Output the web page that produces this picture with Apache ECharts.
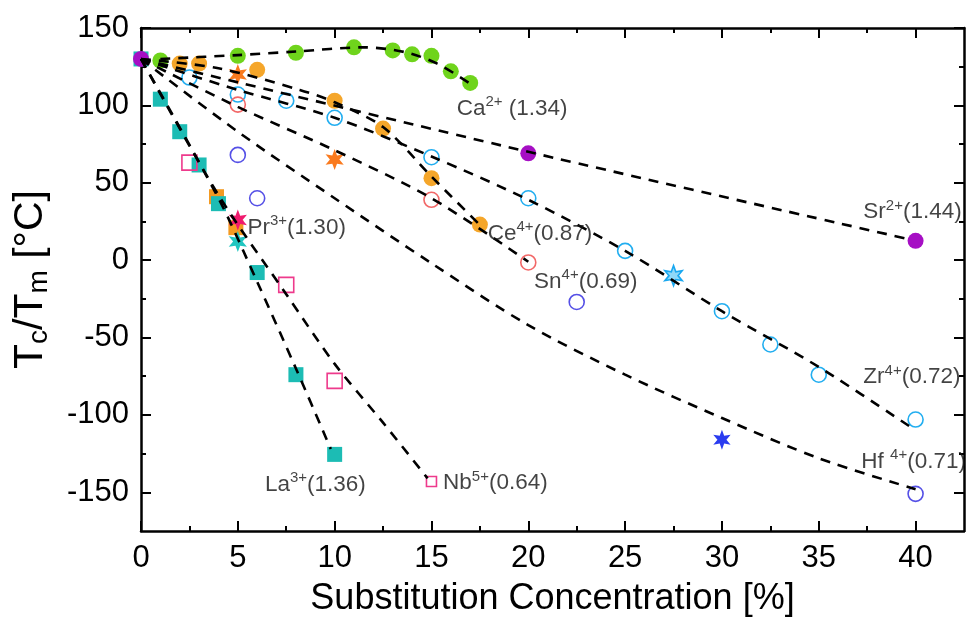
<!DOCTYPE html>
<html>
<head>
<meta charset="utf-8">
<title>Tc vs substitution</title>
<script src="https://cdn.jsdelivr.net/npm/echarts@6/dist/echarts.min.js"></script>
<style>
  html, body { margin: 0; padding: 0; background: #fff; }
  #chart { width: 966px; height: 631px; }
</style>
</head>
<body>
<div id="chart"></div>
<script>
// measured points: [concentration %, Tc °C]
const srPoints = [[0, 130], [20, 69], [40, 12.5]];
const caPoints = [[1, 129], [5, 132], [8, 134], [11, 137.5], [13, 135.5], [14, 133], [15, 132], [16, 122], [17, 114.5]];
const cePoints = [[2, 127], [3, 127], [6, 123], [10, 103], [12.5, 85], [15, 53], [17.5, 23]];
const ceStars = [[5, 120], [10, 65]];
const orangeHidden = [[3.9, 41], [4.9, 21]];
const zrPoints = [[2.5, 118], [5, 107], [7.5, 103], [10, 92], [15, 66.5], [20, 40], [25, 6], [30, -33], [32.5, -54.5], [35, -74], [40, -103]];
const zrStars = [[27.5, -10]];
const snPoints = [[5, 100.5], [15, 39], [20, -1.5]];
const hfPoints = [[5, 68], [6, 40], [22.5, -27], [40, -151]];
const hfStars = [[30, -116]];
const laPoints = [[0, 130], [1, 104], [2, 83], [3, 61.5], [4, 36.5], [6, -8], [8, -74], [10, -125.5]];
const laStars = [[5, 12]];
const prStars = [[5, 26]];
const nbPoints = [[2.5, 63], [7.5, -16], [10, -78], [15, -143]];

// dashed guide curves
const caFit = [[1, 130], [5, 132.5], [8, 134.8], [11.5, 137.5], [13.6, 134.5], [15.3, 127], [17, 114]];
const srFit = [[0, 130], [20, 70], [39.5, 14]];
const ceFit = [[0, 130], [4, 124], [8.2, 110], [10, 102], [12.5, 86], [15, 54], [17.4, 24]];
const zrFit = [[0, 130], [5, 110], [10, 92], [15, 67], [20, 39], [25, 6], [30, -33], [35, -69], [40, -110]];
const snFit = [[0, 130], [5, 99], [10, 71], [15, 40], [20, -1]];
const hfFit = [[0, 130], [5, 83], [10, 40], [15, -2], [20, -42], [25, -74], [30, -102], [35, -128], [40, -148]];
const laFit = [[0, 130], [4, 40], [6, -14], [8, -70], [9.8, -122]];
const nbFit = [[0, 130], [4, 42], [7.5, -22], [10, -67], [12.5, -105], [14.8, -141]];

const ionLabels = ['Ca{sup|2+} (1.34)', 'Sr{sup|2+}(1.44)', 'Ce{sup|4+}(0.87)', 'Sn{sup|4+}(0.69)', 'Pr{sup|3+}(1.30)',
  'Zr{sup|4+}(0.72)', 'Hf {sup|4+}(0.71)', 'La{sup|3+}(1.36)', 'Nb{sup|5+}(0.64)'];
const ionLabelAnchors = [[16.3, 98], [37.3, 31], [17.9, 17.3], [20.3, -14], [5.5, 21], [37.3, -75.5], [37.2, -130], [6.4, -145], [15.6, -144]];

const xMajorTicks = [0, 5, 10, 15, 20, 25, 30, 35, 40];
const xMinorTicks = [2.5, 7.5, 12.5, 17.5, 22.5, 27.5, 32.5, 37.5];
const yMajorTicks = [-150, -100, -50, 0, 50, 100, 150];
const yMinorTicks = [-125, -75, -25, 25, 75, 125];

const FONT = '"Liberation Sans", Arial, sans-serif';
const STAR = 'path://M0,-10L2.25,-3.9L8.66,-5L4.5,0L8.66,5L2.25,3.9L0,10L-2.25,3.9L-8.66,5L-4.5,0L-8.66,-5L-2.25,-3.9Z';

const chart = echarts.init(document.getElementById('chart'));

function axis(pos, min, max, ticks, len, showLine, labels) {
  return {
    type: 'value',
    position: pos,
    min: min,
    max: max,
    axisLine: { show: showLine, onZero: false, lineStyle: { color: '#000', width: 2.5 } },
    axisTick: { show: true, inside: true, length: len, customValues: ticks, lineStyle: { color: '#000', width: 2 } },
    axisLabel: labels
      ? { show: true, customValues: ticks, fontSize: 31, color: '#000', fontFamily: FONT, margin: 12 }
      : { show: false },
    splitLine: { show: false }
  };
}

function dots(data, symbol, size, fill, border, z) {
  return {
    type: 'scatter',
    data: data,
    symbol: symbol,
    symbolSize: size,
    symbolKeepAspect: true,
    itemStyle: { color: fill, borderColor: border || fill, borderWidth: border ? 1.6 : 0, opacity: 1 },
    z: z || 3,
    silent: true
  };
}

function fit(data) {
  return {
    type: 'line',
    data: data,
    smooth: 0.3,
    symbol: 'none',
    lineStyle: { color: '#000', width: 2.6, type: [10, 8] },
    z: 6,
    silent: true
  };
}

const xMain = axis('bottom', 0, 42.5, xMajorTicks, 10, true, true);
xMain.name = 'Substitution Concentration [%]';
xMain.nameLocation = 'middle';
xMain.nameGap = 50;
xMain.nameTextStyle = { fontSize: 36, color: '#000', fontFamily: FONT };

const yMain = axis('left', -175, 150, yMajorTicks, 10, true, true);
yMain.name = 'T{sub|c}/T{sub|m} [°C]';
yMain.nameLocation = 'middle';
yMain.nameGap = 88;
yMain.nameRotate = 90;
yMain.nameTextStyle = {
  fontSize: 41, color: '#000', fontFamily: FONT, lineHeight: 44,
  rich: { sub: { fontSize: 28, lineHeight: 22, verticalAlign: 'bottom', fontFamily: FONT, color: '#000' } }
};

const option = {
  animation: false,
  backgroundColor: '#fff',
  grid: { left: 141, right: 2, top: 28, bottom: 100, containLabel: false },
  xAxis: [
    xMain,
    axis('bottom', 0, 42.5, xMinorTicks, 5, false, false),
    axis('top', 0, 42.5, xMajorTicks, 10, true, false),
    axis('top', 0, 42.5, xMinorTicks, 5, false, false)
  ],
  yAxis: [
    yMain,
    axis('left', -175, 150, yMinorTicks, 5, false, false),
    axis('right', -175, 150, yMajorTicks, 10, true, false),
    axis('right', -175, 150, yMinorTicks, 5, false, false)
  ],
  series: [
    dots(orangeHidden, 'rect', 15, '#f39a22', null, 1),
    dots(laPoints, 'rect', 15, '#1cbcb4', null, 2),
    dots(srPoints, 'circle', 16, '#a60fc4', null, 3),
    dots(caPoints, 'circle', 16, '#6fd41c', null, 3),
    dots(cePoints, 'circle', 16, '#f5a62a', null, 3),
    dots(ceStars, STAR, 21, '#fa7a1e', null, 3),
    dots(zrPoints, 'circle', 15, 'rgba(0,0,0,0)', '#22aef0', 3),
    dots(zrStars, STAR, 20, '#8fd8f8', '#1aa8f0', 3),
    dots(snPoints, 'circle', 15, 'rgba(0,0,0,0)', '#f26868', 3),
    dots(hfPoints, 'circle', 15, 'rgba(0,0,0,0)', '#5550e6', 3),
    dots(hfStars, STAR, 20, '#2a3cf0', null, 3),
    dots(laStars, STAR, 21, '#20c6c0', null, 4),
    dots(prStars, STAR, 21, '#f01a6e', null, 4),
    Object.assign(dots(nbPoints, 'rect', 15, 'rgba(0,0,0,0)', '#ee3a8c', 3), {
      symbolSize: function (v, p) { return p.dataIndex === nbPoints.length - 1 ? 10 : 15; }
    }),
    fit(caFit), fit(srFit), fit(ceFit), fit(zrFit), fit(snFit), fit(hfFit), fit(laFit), fit(nbFit),
    {
      type: 'scatter',
      symbolSize: 0,
      silent: true,
      z: 7,
      data: ionLabelAnchors.map(function (p, i) {
        return { value: p, label: { formatter: ionLabels[i] } };
      }),
      label: {
        show: true, position: 'right', distance: 0,
        fontSize: 22.5, color: '#141414', fontFamily: FONT, lineHeight: 28,
        rich: { sup: { fontSize: 15, lineHeight: 15, verticalAlign: 'top', fontFamily: FONT, color: '#141414' } }
      }
    }
  ]
};

chart.setOption(option);
</script>
</body>
</html>
